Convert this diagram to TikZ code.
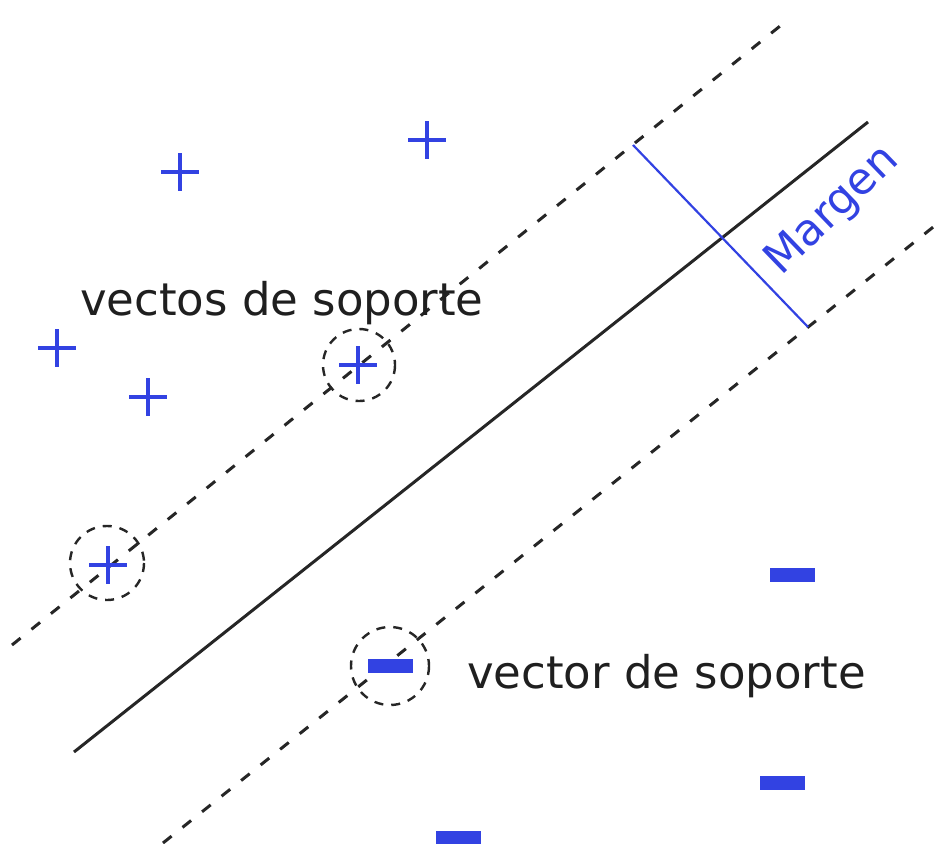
\documentclass[tikz,border=0pt]{standalone}
\usepackage{fontspec}
\setmainfont{DejaVu Sans}
\definecolor{ptblue}{RGB}{50,66,226}
\begin{document}
\begin{tikzpicture}[x=1pt,y=-1pt,
  hyper/.style={line width=3pt,black!85},
  dashhyper/.style={line width=3pt,black!85,dash pattern=on 11pt off 14pt},
  svcircle/.style={line width=2.4pt,black!85,dash pattern=on 9pt off 8pt},
  plussign/.style={line width=4.8pt,ptblue},
  minussign/.style={fill=ptblue},
  lbl/.style={inner sep=0pt,font=\fontsize{45}{54}\selectfont,text=black!88},
  marginlbl/.style={inner sep=0pt,font=\fontsize{44}{52}\selectfont,text=ptblue}]
\useasboundingbox (0,0) rectangle (942,843);
% hyperplane and margins
\coordinate (s1) at (74,752);
\coordinate (s2) at (868,122);
\coordinate (u1) at (12,645);
\coordinate (u2) at (790,18);
\coordinate (l1) at (163,843);
\coordinate (l2) at (942,220);
\draw[hyper] (s1) -- (s2);
\draw[dashhyper] (u1) -- (u2);
\draw[dashhyper] (l1) -- (l2);
% margin
\coordinate (m1) at (633,145);
\coordinate (m2) at (808,327);
\draw[line width=2.2pt,ptblue] (m1) -- (m2);
\node[marginlbl,rotate=44] (mg) at (833,211) {Margen};
% support vector circles
\draw[svcircle] (359,365) circle (36);
\draw[svcircle] (107,563) circle (37);
\draw[svcircle] (390,666) circle (39);
% plus signs
\foreach \x/\y in {180/172,427/140,57/348,148/397,358/365,108/565}{
  \draw[plussign] (\x-19,\y) -- (\x+19,\y);
  \draw[plussign] (\x,\y-19) -- (\x,\y+19);
}
% minus signs
\foreach \x/\y in {792/575,782/783,458/838,390/666}{
  \fill[minussign] (\x-22.5,\y-7) rectangle (\x+22.5,\y+7);
}
% labels
\node[lbl,anchor=base west] (t1) at (80,315) {vectos de soporte};
\node[lbl,anchor=base west] (t2) at (467,688) {vector de soporte};
\end{tikzpicture}
\end{document}
